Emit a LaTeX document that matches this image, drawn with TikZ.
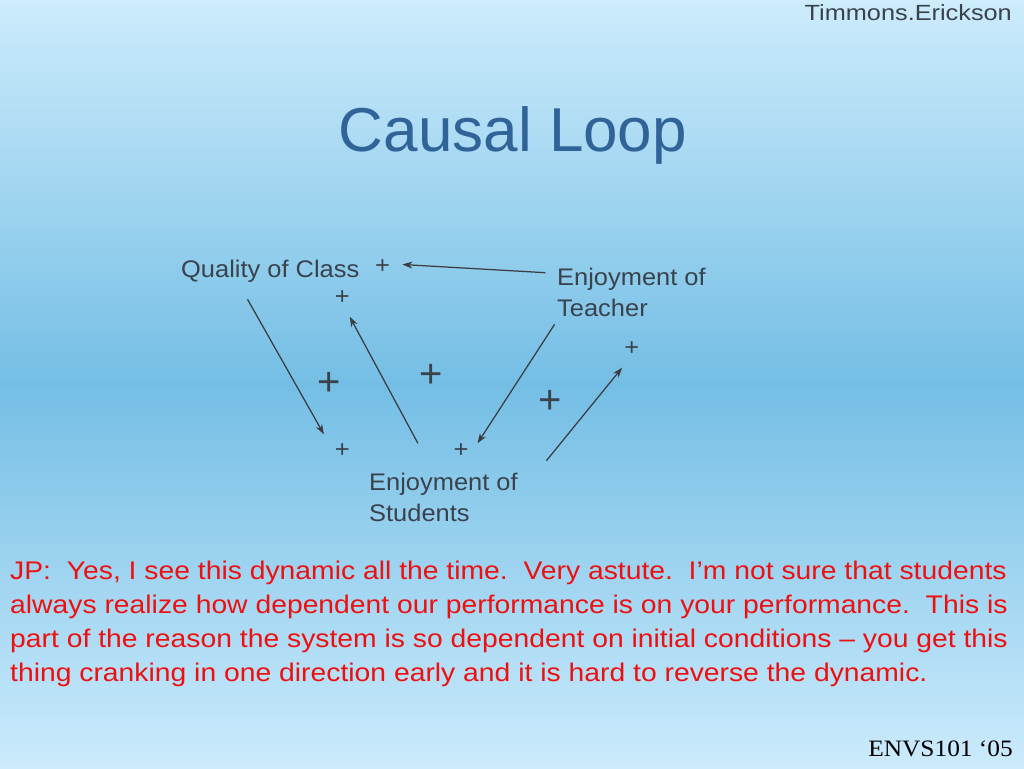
\documentclass[tikz,border=0pt]{standalone}
\usepackage{fontspec}
\setmainfont{Liberation Sans}
\newfontfamily\lblfont[FakeStretch=1.06]{Liberation Sans}
\newfontfamily\redfont[FakeStretch=1.11]{Liberation Sans}
\newfontfamily\hdrfont[FakeStretch=1.15]{Liberation Sans}
\newfontfamily\envsfont[FakeStretch=1.08]{Liberation Serif}
\usetikzlibrary{arrows.meta}
\definecolor{bgtop}{RGB}{205,236,252}
\definecolor{bgmid}{RGB}{116,190,229}
\definecolor{bgbot}{RGB}{204,235,252}
\definecolor{txtgray}{RGB}{58,66,76}
\definecolor{titleblue}{RGB}{48,100,152}
\definecolor{notered}{RGB}{238,16,16}
\definecolor{arrowgray}{RGB}{60,60,64}
\frenchspacing
\begin{document}
\begin{tikzpicture}[x=1pt,y=-1pt,
  lbl/.style={inner sep=0pt, text=txtgray, font=\lblfont\fontsize{24}{31}\selectfont, align=left},
  sgn/.style={inner sep=0pt, text=txtgray, font=\lblfont\fontsize{24}{24}\selectfont},
  bigsgn/.style={inner sep=0pt, text=txtgray, font=\fontsize{40}{40}\selectfont},
  link/.style={draw=arrowgray, line width=1.25pt, -{Stealth[length=10pt,width=7pt]}},
]
\useasboundingbox (0,0) rectangle (1024,768);
\shade[top color=bgtop, bottom color=bgbot, middle color=bgmid] (0,0) rectangle (1024,768);

% header / footer
\node[font=\hdrfont\fontsize{22}{22}\selectfont, text=txtgray, anchor=base east, inner sep=0pt] (author) at (1012,20.7) {Timmons.Erickson};
\node[font=\envsfont\fontsize{23.5}{23.5}\selectfont, text=black, anchor=base east, inner sep=0pt] (course) at (1013,756.7) {ENVS101 ‘05};

% title
\node[font=\fontsize{62}{62}\selectfont, text=titleblue, anchor=base, inner sep=0pt] (title) at (513,151) {Causal Loop};

% variables
\node[lbl, anchor=base west] (qual) at (181,277.5) {Quality of Class};
\node[lbl, anchor=north west] (teach) at (557,268) {Enjoyment of\\Teacher};
\node[lbl, anchor=north west] (stud) at (369,473) {Enjoyment of\\Students};

% polarity signs
\node[sgn] (s1) at (382.5,266.7) {+};
\node[sgn] (s2) at (342.2,297.3) {+};
\node[sgn] (s3) at (631.8,348.3) {+};
\node[sgn] (s4) at (342.2,450.7) {+};
\node[sgn] (s5) at (461,450.7) {+};
\node[bigsgn] (b1) at (328.7,384.3) {+};
\node[bigsgn] (b2) at (431,375.7) {+};
\node[bigsgn] (b3) at (550.5,401.7) {+};

% connector end points
\coordinate (a1s) at (545.3,272.7);
\coordinate (a1e) at (402.4,264.5);
\coordinate (a2s) at (247.5,299.3);
\coordinate (a2e) at (323.9,434.3);
\coordinate (a3s) at (417.9,443.3);
\coordinate (a3e) at (349.7,316.7);
\coordinate (a4s) at (554.6,324.3);
\coordinate (a4e) at (477.5,443.3);
\coordinate (a5s) at (546.4,460.7);
\coordinate (a5e) at (622.1,367.7);

\draw[link] (a1s) -- (a1e);
\draw[link] (a2s) -- (a2e);
\draw[link] (a3s) -- (a3e);
\draw[link] (a4s) -- (a4e);
\draw[link] (a5s) -- (a5e);

% comment
\node[anchor=north west, inner sep=0pt, align=left, text=notered, font=\redfont\fontsize{25.5}{34}\selectfont] (note) at (10,561)
 {JP:~ Yes, I see this dynamic all the time.~ Very astute.~ I’m not sure that students\\
  always realize how dependent our performance is on your performance.~ This is\\
  part of the reason the system is so dependent on initial conditions – you get this\\
  thing cranking in one direction early and it is hard to reverse the dynamic.};
\end{tikzpicture}
\end{document}
